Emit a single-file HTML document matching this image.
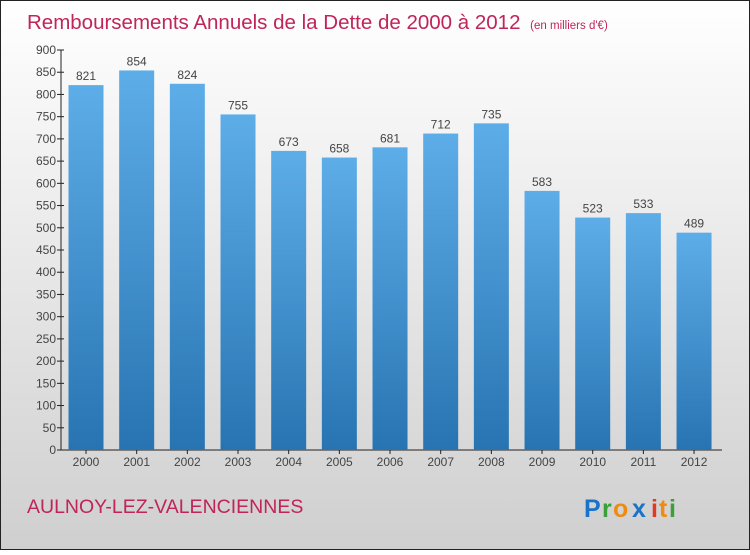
<!DOCTYPE html>
<html><head><meta charset="utf-8"><style>
body{margin:0;width:750px;height:550px;overflow:hidden;font-family:"Liberation Sans",sans-serif}
</style></head><body>
<svg width="750" height="550" xmlns="http://www.w3.org/2000/svg">
<defs>
<linearGradient id="bg" x1="0" y1="0" x2="0" y2="1"><stop offset="0" stop-color="#ffffff"/><stop offset="1" stop-color="#cfcfcf"/></linearGradient>
<linearGradient id="bar" x1="0" y1="0" x2="0" y2="1"><stop offset="0" stop-color="#5dade8"/><stop offset="1" stop-color="#2874b2"/></linearGradient>
</defs>
<rect x="0.5" y="0.5" width="749" height="549" fill="url(#bg)" stroke="#222"/>
<text x="27" y="29" font-size="20.5" font-weight="normal" fill="#c0245a">Remboursements Annuels de la Dette de 2000 à 2012 <tspan font-size="11.5" dx="4">(en milliers d'€)</tspan></text>
<g id="axes"></g>
<g id="bars"></g>
<text x="27" y="513" font-size="19.5" fill="#c0245a">AULNOY-LEZ-VALENCIENNES</text>
<g font-size="25" font-weight="bold">
<text x="584" y="517" fill="#1a73c8">P</text><text x="602" y="517" fill="#3aa03a">r</text><text x="613" y="517" fill="#f08a10">o</text><text x="632" y="517" fill="#1a73c8">x</text><text x="651" y="517" fill="#e23a20">i</text><text x="659" y="517" fill="#f08a10">t</text><text x="669" y="517" fill="#3aa03a">i</text>
</g>
</svg>
<script>
const categories=["2000","2001","2002","2003","2004","2005","2006","2007","2008","2009","2010","2011","2012"];
const values=[821,854,824,755,673,658,681,712,735,583,523,533,489];
const ticks=[0,50,100,150,200,250,300,350,400,450,500,550,600,650,700,750,800,850,900];
const NS="http://www.w3.org/2000/svg";
const y0=450,y1=50,vmax=900,x0=61,step=50.67,bw=35;
const y=v=>y0-(v/vmax)*(y0-y1);
const xc=i=>86+i*step;
function mk(t,a,p){const e=document.createElementNS(NS,t);for(const k in a)e.setAttribute(k,a[k]);p.appendChild(e);return e;}
const ax=document.getElementById('axes'),bg=document.getElementById('bars');
let l=mk('line',{x1:x0,y1:y1,x2:x0,y2:y0,stroke:'#222'},ax);


l=mk('line',{x1:x0,y1:y0,x2:722,y2:y0,stroke:'#222'},ax);


ticks.forEach(t=>{
 mk('line',{x1:x0-4,y1:y(t),x2:x0+3,y2:y(t),stroke:'#222'},ax);
 const tx=mk('text',{x:x0-5,y:y(t)+4,'font-size':12,fill:'#444','text-anchor':'end'},ax);
 tx.textContent=t;
 
 
});
categories.forEach((c,i)=>{
 const v=values[i];
 const r=mk('rect',{x:xc(i)-bw/2,y:y(v),width:bw,height:y0-y(v),fill:'url(#bar)'},bg);
 
 
 mk('line',{x1:xc(i),y1:y0,x2:xc(i),y2:y0+4,stroke:'#222'},ax);
 const lb=mk('text',{x:xc(i),y:y(v)-5,'font-size':12,fill:'#444','text-anchor':'middle'},bg);
 lb.textContent=v;
 
 
 const xl=mk('text',{x:xc(i),y:y0+16,'font-size':12,fill:'#444','text-anchor':'middle'},ax);
 xl.textContent=c;
 
 
});
</script>
</body></html>
